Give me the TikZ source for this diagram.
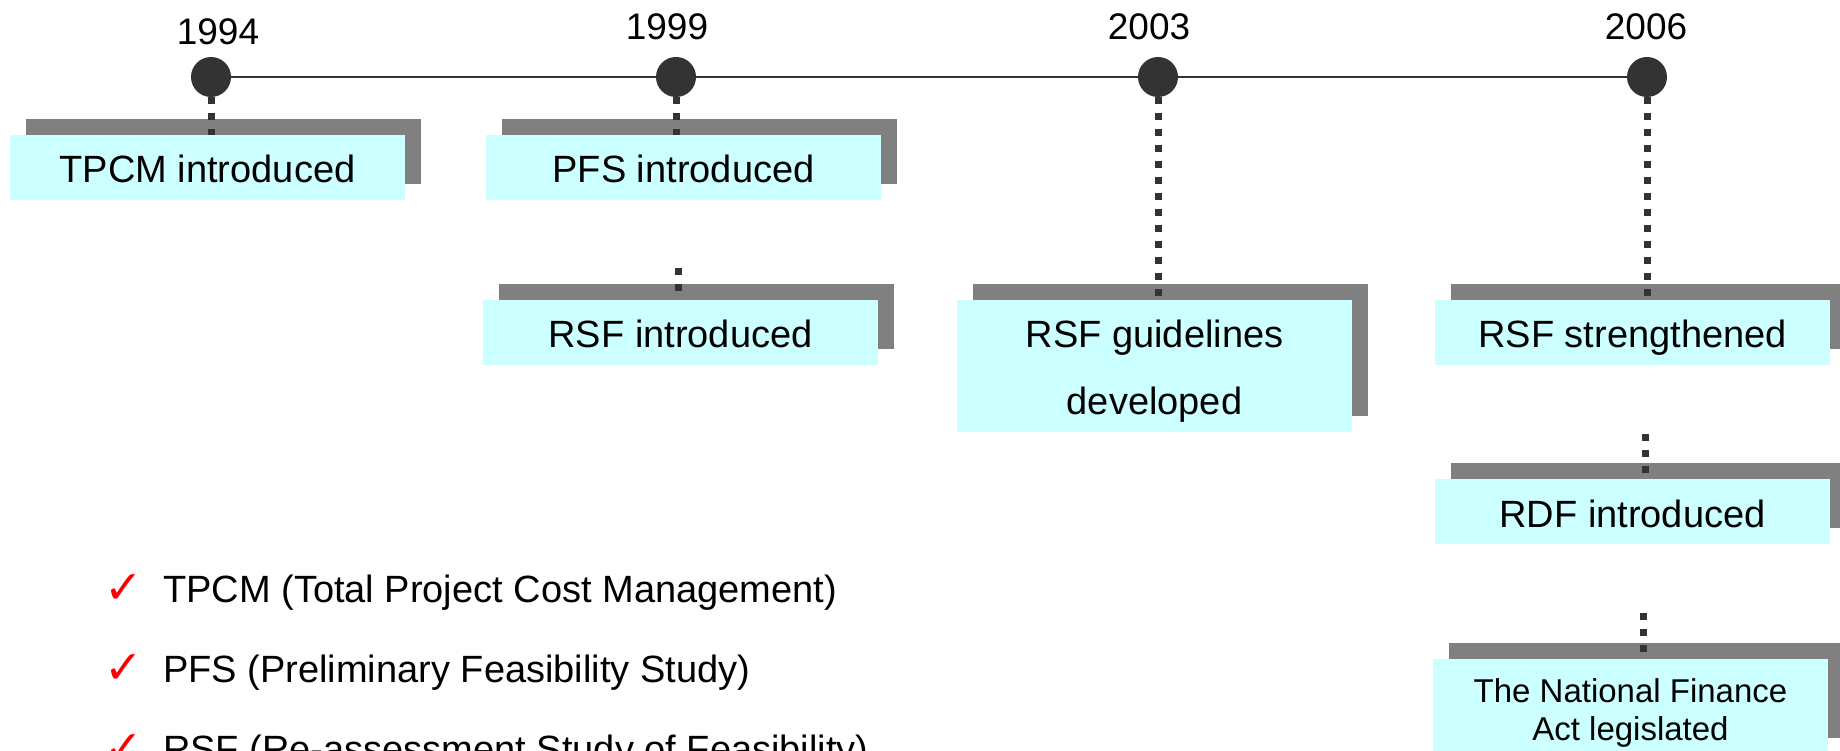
\documentclass[tikz,border=0pt]{standalone}
\usepackage{fontspec}
\setmainfont{Liberation Sans}
\newfontfamily\symfont{DejaVu Sans}
\usetikzlibrary{calc}
\usetikzlibrary{shadows}

\definecolor{boxcyan}{HTML}{CCFFFF}
\definecolor{boxgray}{HTML}{808080}
\definecolor{linegray}{HTML}{333333}

\tikzset{
	evbox/.style={fill=boxcyan, minimum width=395pt, minimum height=65pt, inner sep=0pt,
		font=\fontsize{38}{46}\selectfont,
		drop shadow={shadow xshift=16pt, shadow yshift=16pt, fill=boxgray, opacity=1}},
	evline/.style={evbox, text height=35pt, text depth=4pt},
	yeardot/.style={circle, fill=linegray, minimum size=40pt, inner sep=0pt},
	yearlabel/.style={anchor=base, inner sep=0pt, font=\fontsize{37}{44}\selectfont},
	stem/.style={linegray, line width=7pt, dash pattern=on 7pt off 9pt},
	keynote/.style={anchor=base west, inner sep=0pt, font=\fontsize{38}{46}\selectfont},
	keycheck/.style={anchor=base west, inner sep=0pt, red, font=\symfont\fontsize{46}{54}\selectfont}
}

\begin{document}
\begin{tikzpicture}[x=1pt, y=-1pt]
	\useasboundingbox (0,0) rectangle (1840,751);
	\clip (0,0) rectangle (1840,751);

	% the time line and its years
	\node[yeardot] (d94) at (211,77) {};
	\node[yeardot] (d99) at (676,77) {};
	\node[yeardot] (d03) at (1158,77) {};
	\node[yeardot] (d06) at (1647,77) {};
	\draw[linegray, line width=2.5pt] (d94) -- (d06);

	\node[yearlabel] (y94) at (218,45) {1994};
	\node[yearlabel] (y99) at (667,40) {1999};
	\node[yearlabel] (y03) at (1149,40) {2003};
	\node[yearlabel] (y06) at (1646,40) {2006};

	% events
	\node[evline] (tpcm) at (207.5,167.5) {TPCM introduced};
	\node[evline] (pfs) at (683.5,167.5) {PFS introduced};
	\node[evline] (rsfi) at (680.5,332.5) {RSF introduced};
	\node[evbox, minimum height=132pt, align=center, font=\fontsize{38}{67}\selectfont] (rsfg) at (1154.5,366)
		{\rule{0pt}{38pt}RSF guidelines\\developed};
	\node[evline] (rsfs) at (1632.5,332.5) {RSF strengthened};
	\node[evline] (rdf) at (1632.5,511.5) {RDF introduced};
	\node[evbox, minimum height=95pt, align=center, font=\fontsize{33}{38}\selectfont] (nfa) at (1630.5,706.5)
		{\rule{0pt}{36pt}The National Finance\\Act legislated};

	% dotted stems
	\coordinate (c99) at (678,268);
	\coordinate (c06a) at (1645,434);
	\coordinate (c06b) at (1643,613);
	\draw[stem] (d94.south) -- (d94.south |- tpcm.north);
	\draw[stem] (d99.south) -- (d99.south |- pfs.north);
	\draw[stem] (c99) -- (c99 |- rsfi.north);
	\draw[stem] (d03.south) -- (d03.south |- rsfg.north);
	\draw[stem] (d06.south) -- (d06.south |- rsfs.north);
	\draw[stem] (c06a) -- (c06a |- rdf.north);
	\draw[stem] (c06b) -- (c06b |- nfa.north);

	% abbreviations
	\node[keycheck] (k1) at (104,603) {✓};
	\node[keycheck] (k2) at (104,683) {✓};
	\node[keycheck] (k3) at (104,763) {✓};
	\node[keynote] (n1) at (163,602) {TPCM (Total Project Cost Management)};
	\node[keynote] (n2) at (163,682) {PFS (Preliminary Feasibility Study)};
	\node[keynote] (n3) at (163,762) {RSF (Re-assessment Study of Feasibility)};
\end{tikzpicture}
\end{document}
